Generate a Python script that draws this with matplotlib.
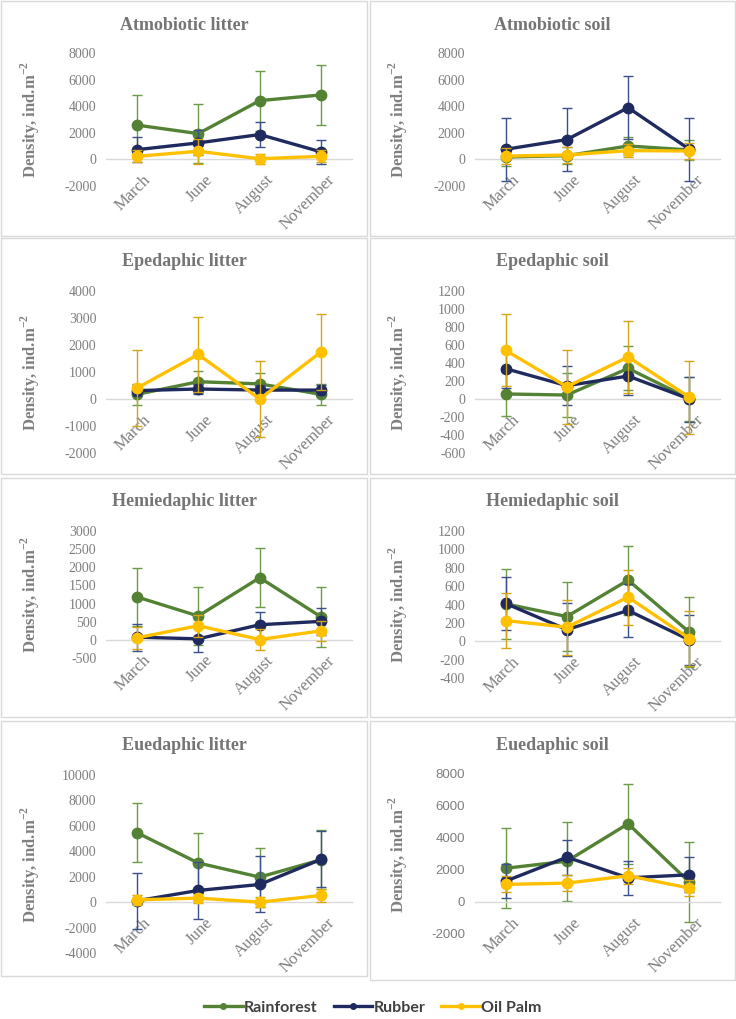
#!/usr/bin/env python3
import matplotlib
matplotlib.use("Agg")
import matplotlib.pyplot as plt
import matplotlib.transforms as mtransforms
from matplotlib.lines import Line2D
from matplotlib.patches import Rectangle

months = ["March", "June", "August", "November"]
series = ["Rainforest", "Rubber", "Oil Palm"]

# mean density per series (Rainforest, Rubber, Oil Palm) and error bars
atmobiotic_litter = [[2580, 1940, 4420, 4850], [730, 1240, 1870, 560], [230, 610, 50, 230]]
atmobiotic_litter_sd = [[2250, 2230, 2250, 2250], [940, 940, 930, 930], [450, 940, 380, 450]]
atmobiotic_soil = [[180, 280, 1010, 710], [760, 1490, 3890, 760], [250, 330, 660, 630]]
atmobiotic_soil_sd = [[650, 650, 680, 780], [2370, 2350, 2350, 2370], [600, 600, 500, 600]]
epedaphic_litter = [[170, 640, 560, 170], [310, 370, 330, 330], [400, 1650, 0, 1750]]
epedaphic_litter_sd = [[390, 400, 390, 390], [200, 200, 200, 200], [1400, 1400, 1400, 1400]]
epedaphic_soil = [[56, 44, 340, 5], [337, 148, 255, 0], [540, 137, 467, 19]]
epedaphic_soil_sd = [[245, 245, 245, 245], [210, 220, 210, 250], [400, 410, 400, 405]]
hemiedaphic_litter = [[1185, 657, 1713, 630], [74, 28, 417, 510], [56, 389, 9, 250]]
hemiedaphic_litter_sd = [[805, 805, 805, 815], [370, 370, 360, 370], [300, 300, 280, 270]]
hemiedaphic_soil = [[407, 269, 665, 98], [411, 127, 335, 15], [225, 153, 480, 29]]
hemiedaphic_soil_sd = [[380, 380, 375, 380], [285, 285, 285, 275], [300, 300, 300, 295]]
euedaphic_litter = [[5470, 3080, 1970, 3340], [105, 920, 1390, 3370], [185, 315, 0, 530]]
euedaphic_litter_sd = [[2340, 2370, 2320, 2320], [2190, 2230, 2200, 2200], [400, 350, 400, 500]]
euedaphic_soil = [[2110, 2550, 4890, 1240], [1305, 2800, 1510, 1700], [1100, 1180, 1640, 870]]
euedaphic_soil_sd = [[2490, 2470, 2490, 2490], [1075, 1100, 1070, 1100], [500, 500, 500, 500]]

colors = ["#548235", "#1f2a5e", "#ffc000"]
err_colors = ["#6b9b46", "#3b4f8c", "#d4a514"]
GRAY = "#7f7f7f"
SERIF = "Liberation Serif"

plt.rcParams["font.family"] = SERIF
plt.rcParams["axes.unicode_minus"] = False

W, H = 736, 1019
fig = plt.figure(figsize=(W / 100, H / 100), dpi=100)


def fx(x):
    return x / W


def fy(y):
    return 1 - y / H


# panel frames (left, top, right, bottom in pixels)
frames = [(1, 1, 367, 236), (370, 1, 735, 236),
          (1, 238, 367, 474), (370, 238, 735, 474),
          (1, 478, 367, 717), (370, 478, 735, 717),
          (1, 721, 367, 976), (370, 721, 735, 980)]
for (l, t, r, b) in frames:
    fig.patches.append(Rectangle((fx(l), fy(b)), fx(r) - fx(l), fy(t) - fy(b),
                                 transform=fig.transFigure, fill=False,
                                 edgecolor="#d9d9d9", linewidth=1.0))

# title, data, sd, ylim, ytick step, plot box (left, top, right, bottom px), sans ticks
panels = [
    ("Atmobiotic litter", atmobiotic_litter, atmobiotic_litter_sd, (-2000, 8000), 2000, (106, 53, 352, 186), False),
    ("Atmobiotic soil", atmobiotic_soil, atmobiotic_soil_sd, (-2000, 8000), 2000, (475, 53, 720, 186), False),
    ("Epedaphic litter", epedaphic_litter, epedaphic_litter_sd, (-2000, 4000), 1000, (106, 291, 352, 453), False),
    ("Epedaphic soil", epedaphic_soil, epedaphic_soil_sd, (-600, 1200), 200, (475, 291, 720, 453), False),
    ("Hemiedaphic litter", hemiedaphic_litter, hemiedaphic_litter_sd, (-500, 3000), 500, (106, 531, 352, 658), False),
    ("Hemiedaphic soil", hemiedaphic_soil, hemiedaphic_soil_sd, (-400, 1200), 200, (475, 531, 720, 678), False),
    ("Euedaphic litter", euedaphic_litter, euedaphic_litter_sd, (-4000, 10000), 2000, (106, 775, 352, 953), False),
    ("Euedaphic soil", euedaphic_soil, euedaphic_soil_sd, (-2000, 8000), 2000, (475, 774, 720, 934), True),
]
title_y = [25, 25, 262, 262, 502, 502, 745, 745]

# nudge rotated month labels right, like the source chart
shift = mtransforms.ScaledTranslation(6 / 100, 0, fig.dpi_scale_trans)

for i, (title, data, sd, ylim, step, box, sans) in enumerate(panels):
    l, t, r, b = box
    ax = fig.add_axes([fx(l), fy(b), fx(r) - fx(l), fy(t) - fy(b)])
    for s in ["top", "right", "left"]:
        ax.spines[s].set_visible(False)
    ax.spines["bottom"].set_position(("data", 0))
    ax.spines["bottom"].set_color("#d9d9d9")
    ax.spines["bottom"].set_linewidth(1.0)
    ax.patch.set_visible(False)

    x = list(range(len(months)))
    for k in range(len(series)):
        ax.errorbar(x, data[k], yerr=sd[k], fmt="none", ecolor=err_colors[k],
                    elinewidth=1.0, capsize=3.6, capthick=1.0, zorder=2 + k)
        ax.plot(x, data[k], "-o", color=colors[k], linewidth=2.4,
                markersize=7.5, zorder=3 + k, clip_on=False)
    ax.set_xlim(-0.5, 3.5)
    ax.set_ylim(*ylim)
    ax.set_yticks(range(ylim[0], ylim[1] + 1, step))
    ax.set_xticks(x)
    ax.tick_params(axis="both", length=0)
    ax.tick_params(axis="y", pad=7, labelsize=10, labelcolor=GRAY)
    ax.tick_params(axis="x", pad=9)
    ax.set_xticklabels(months, rotation=45, ha="right", rotation_mode="anchor",
                       fontsize=12, color=GRAY)
    for lab in ax.get_xticklabels():
        lab.set_transform(lab.get_transform() + shift)
    if sans:
        for lab in ax.get_yticklabels():
            lab.set_fontfamily("Liberation Sans")
            lab.set_fontsize(9.5)

    cx = 184 if l < 368 else 552
    fig.text(fx(cx), fy(title_y[i]), title, ha="center", va="center",
             fontsize=13, fontweight="bold", color="#757575")
    lx = 30 if l < 368 else 398
    fig.text(fx(lx), fy((t + b) / 2), r"Density, ind.m$^{\mathregular{-2}}$",
             rotation=90, ha="center", va="center", fontsize=12,
             fontweight="bold", color=GRAY)

handles = [Line2D([0], [0], color=c, linewidth=2.4, marker="o", markersize=4)
           for c in colors]
leg = fig.legend(handles, series, loc="center", bbox_to_anchor=(fx(373), fy(1008)),
                 ncol=3, frameon=False, handlelength=2.4, handletextpad=0.1,
                 columnspacing=1.0,
                 prop={"family": "Lato", "weight": "bold", "size": 11.5})
for txt in leg.get_texts():
    txt.set_color("#404040")

fig.savefig("out.png", dpi=100)
